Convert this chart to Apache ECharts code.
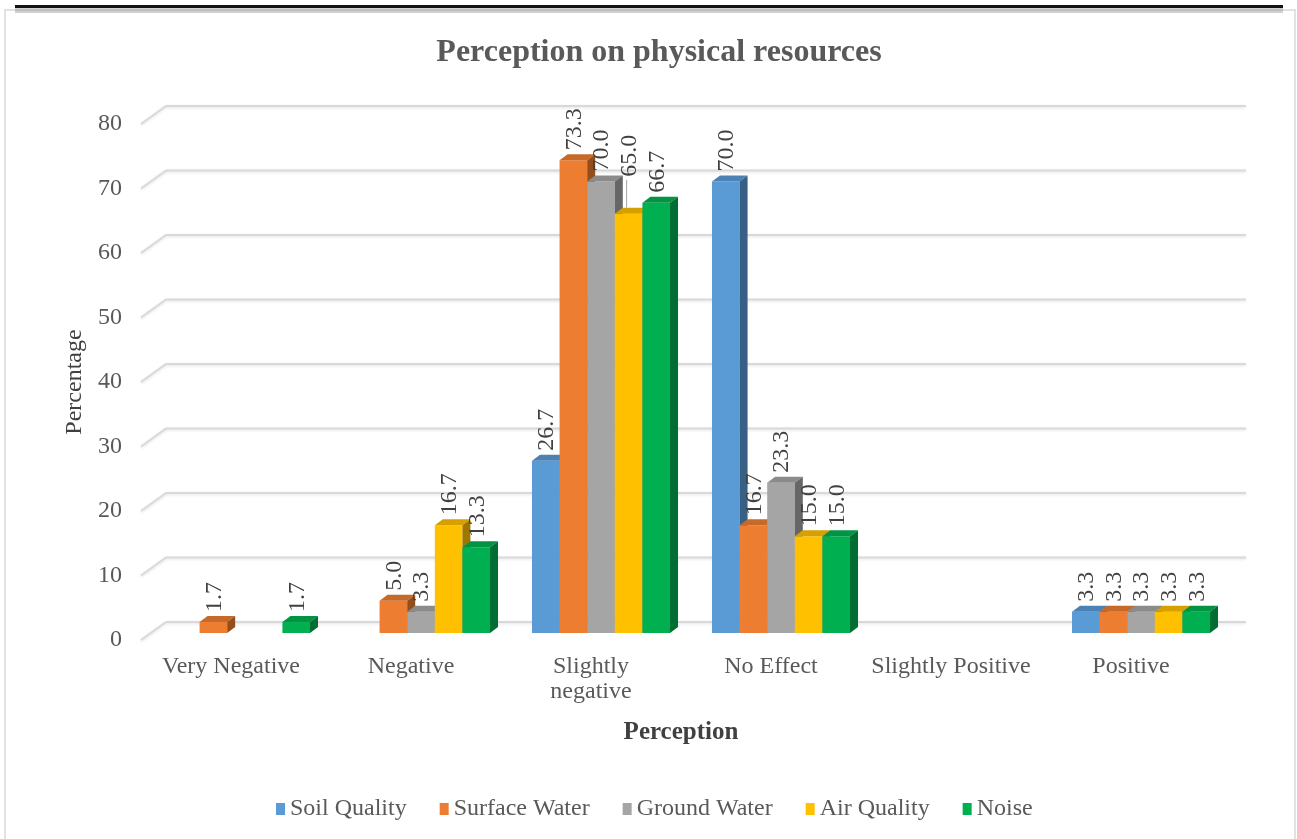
<!DOCTYPE html>
<html>
<head>
<meta charset="utf-8">
<script src="https://cdn.jsdelivr.net/npm/echarts@6/dist/echarts.min.js"></script>
<style>
  html, body { margin: 0; padding: 0; background: #fff; }
  #box { width: 1297px; height: 839px; }
</style>
</head>
<body>
<div id="box"></div>
<script>
var categories = ["Very Negative", "Negative", "Slightly\nnegative", "No Effect", "Slightly Positive", "Positive"];
var seriesNames = ["Soil Quality", "Surface Water", "Ground Water", "Air Quality", "Noise"];
var soilQuality = [0, 0, 26.7, 70.0, 0, 3.3];
var surfaceWater = [1.7, 5.0, 73.3, 16.7, 0, 3.3];
var groundWater = [0, 3.3, 70.0, 23.3, 0, 3.3];
var airQuality = [0, 16.7, 65.0, 15.0, 0, 3.3];
var noise = [1.7, 13.3, 66.7, 15.0, 0, 3.3];
var yTicks = [0, 10, 20, 30, 40, 50, 60, 70, 80];
var colors = ["#5b9bd5", "#ed7d31", "#a5a5a5", "#ffc000", "#00b050"];

var seriesData = [soilQuality, surfaceWater, groundWater, airQuality, noise];
var FONT = "'Liberation Serif', 'Times New Roman', serif";
var DX = 25, DY = -18; // depth of floor / back wall
var BAR_DX = 10, BAR_DY = -7; // front face of bars sits a bit behind the front plane
var SIDE_DX = 8, SIDE_DY = -6; // bar thickness
// labels excel pushed up with a leader line (series -> category -> px)
var labelLift = { 3: { 2: 27 } };

var chart = echarts.init(document.getElementById("box"));

function shade(hex, f) {
  var n = parseInt(hex.slice(1), 16);
  var r = (n >> 16) & 255, g = (n >> 8) & 255, b = n & 255;
  return "rgb(" + Math.round(r * f) + "," + Math.round(g * f) + "," + Math.round(b * f) + ")";
}

// back wall lines + the little diagonals on the left side
function renderGrid(params, api) {
  var cs = params.coordSys;
  var y = api.coord([0, api.value(1)])[1];
  var xl = cs.x, xr = cs.x + cs.width;
  var st = { stroke: "#d9d9d9", lineWidth: 2, shadowBlur: 3, shadowColor: "rgba(0,0,0,0.12)", shadowOffsetY: 1 };
  return {
    type: "group",
    children: [
      { type: "line", shape: { x1: xl, y1: y, x2: xl + DX, y2: y + DY }, style: st },
      { type: "line", shape: { x1: xl + DX, y1: y + DY, x2: xr + DX, y2: y + DY }, style: st },
    ],
  };
}

function makeBarRender(s) {
  return function (params, api) {
    var cat = api.value(0);
    var v = api.value(1);
    if (!v) return null;
    var band = api.size([1, 0])[0];
    var bw = (band * 0.767) / 5;
    var base = api.coord([cat, 0]);
    var top = api.coord([cat, v]);
    var xc = base[0] + BAR_DX + (s - 2) * bw;
    var xl = xc - bw / 2, xr = xc + bw / 2;
    var yb = base[1] + BAR_DY, yt = top[1] + BAR_DY;
    var c = colors[s];
    var children = [
      { type: "rect", shape: { x: xl, y: yt, width: bw, height: yb - yt }, style: { fill: c } },
      {
        type: "polygon",
        shape: { points: [[xl, yt], [xr, yt], [xr + SIDE_DX, yt + SIDE_DY], [xl + SIDE_DX, yt + SIDE_DY]] },
        style: { fill: shade(c, 0.84) },
      },
      {
        type: "polygon",
        shape: { points: [[xr, yt], [xr + SIDE_DX, yt + SIDE_DY], [xr + SIDE_DX, yb + SIDE_DY], [xr, yb]] },
        style: { fill: shade(c, 0.62) },
      },
    ];
    var lift = (labelLift[s] && labelLift[s][cat]) || 0;
    var ly = yt + SIDE_DY - 4 - lift;
    if (lift) {
      children.push({
        type: "line",
        shape: { x1: xc - 2, y1: ly + 3, x2: xc - 2, y2: yt + SIDE_DY },
        style: { stroke: "#a6a6a6", lineWidth: 1 },
      });
    }
    children.push({
      type: "text",
      x: xc + 1,
      y: ly,
      rotation: Math.PI / 2,
      style: { text: v.toFixed(1), font: "24px " + FONT, fill: "#404040", align: "left", verticalAlign: "middle" },
    });
    return { type: "group", children: children };
  };
}

var series = [
  {
    type: "custom",
    z: 1,
    silent: true,
    renderItem: renderGrid,
    data: yTicks.map(function (t) { return [0, t]; }),
  },
];
for (var s = 0; s < seriesNames.length; s++) {
  series.push({
    type: "custom",
    name: seriesNames[s],
    z: 2,
    itemStyle: { color: colors[s] },
    renderItem: makeBarRender(s),
    data: seriesData[s].map(function (v, i) { return [i, v]; }),
  });
}

var option = {
  backgroundColor: "#fff",
  animation: false,
  title: {
    text: "Perception on physical resources",
    left: 654,
    textAlign: "center",
    top: 32,
    textStyle: { fontFamily: FONT, fontSize: 32, fontWeight: "bold", color: "#595959" },
  },
  legend: {
    data: seriesNames,
    left: 271,
    top: 792,
    icon: "rect",
    itemWidth: 9,
    itemHeight: 12,
    itemGap: 33,
    textStyle: { fontFamily: FONT, fontSize: 24, color: "#595959" },
  },
  grid: { left: 141, right: 76, top: 124, bottom: 199 },
  xAxis: {
    type: "category",
    data: categories,
    axisLine: { show: false },
    axisTick: { show: false },
    axisLabel: { interval: 0, margin: 14, fontFamily: FONT, fontSize: 24, lineHeight: 25, color: "#595959" },
    name: "Perception",
    nameLocation: "middle",
    nameGap: 80,
    nameTextStyle: { fontFamily: FONT, fontSize: 25, fontWeight: "bold", color: "#404040" },
  },
  yAxis: {
    type: "value",
    min: 0,
    max: 80,
    interval: 10,
    axisLine: { show: false },
    axisTick: { show: false },
    splitLine: { show: false },
    axisLabel: { margin: 19, fontFamily: FONT, fontSize: 24, color: "#595959" },
    name: "Percentage",
    nameLocation: "middle",
    nameGap: 52,
    nameTextStyle: { fontFamily: FONT, fontSize: 24, color: "#404040" },
  },
  graphic: [
    { type: "rect", z: -1, shape: { x: 5, y: 10, width: 1290, height: 840 }, style: { fill: "none", stroke: "#d9d9d9", lineWidth: 1.5 } },
    { type: "rect", shape: { x: 15, y: 8, width: 1268, height: 5 }, style: { fill: "rgba(120,120,120,0.35)" } },
    { type: "rect", shape: { x: 15, y: 5, width: 1268, height: 3 }, style: { fill: "#111" } },
  ],
  series: series,
};
chart.setOption(option);
</script>
</body>
</html>
